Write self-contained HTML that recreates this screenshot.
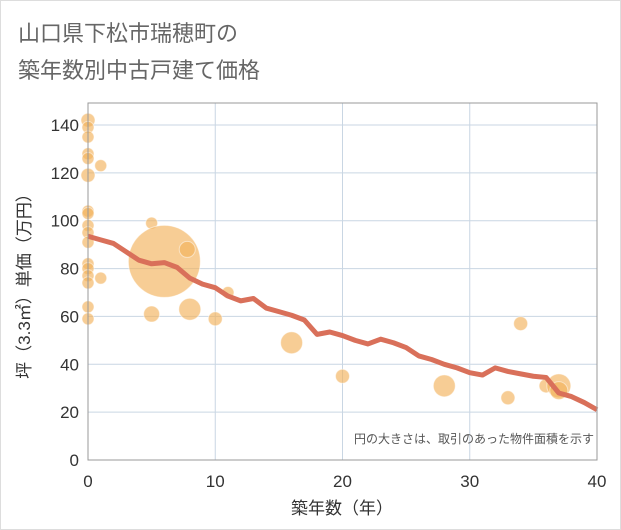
<!DOCTYPE html>
<html><head><meta charset="utf-8"><style>
body{margin:0;background:#fff;}
svg{display:block;font-family:"Liberation Sans","Noto Sans CJK JP",sans-serif;}
</style></head><body>
<svg id="c" width="621" height="530">
<rect x="0.5" y="0.5" width="620" height="529" fill="#fff" stroke="#ddd"/>
<text x="18" y="41" font-size="22" fill="#666">山口県下松市瑞穂町の</text>
<text x="18" y="78" font-size="22" fill="#666">築年数別中古戸建て価格</text>
<g id="grid"></g>
<g id="bubbles"></g>
<g id="line"></g>
<g id="axes"></g>
<text x="594" y="443" font-size="12" fill="#555" text-anchor="end">円の大きさは、取引のあった物件面積を示す</text>
<text x="342" y="514" font-size="17" fill="#333" text-anchor="middle">築年数（年）</text>
<text transform="translate(30,282) rotate(-90)" font-size="17" fill="#333" text-anchor="middle">坪（3.3㎡）単価（万円）</text>
</svg>
<script>
const xTicks=[0,10,20,30,40];
const yTicks=[0,20,40,60,80,100,120,140];
const lineYears=[0,1,2,3,4,5,6,7,8,9,10,11,12,13,14,15,16,17,18,19,20,21,22,23,24,25,26,27,28,29,30,31,32,33,34,35,36,37,38,39,40];
const linePrices=[93.5,92,90.5,87,83.5,82,82.5,80.5,76,73.5,72,68.5,66.5,67.5,63.5,62,60.5,58.5,52.5,53.5,52,50,48.5,50.5,49,47,43.5,42,40,38.5,36.5,35.5,38.5,37,36,35,34.5,28,26.5,24,21];
const bubbleYears=[0,0,0,0,0,0,0,0,0,0,0,0,0,0,0,0,0,1,1,5,5,6,7.8,8,10,11,16,20,28,33,34,36,37,37];
const bubblePrices=[142,139,135,128,126,119,104,103,98,95,91,82,80,77,74,64,59,123,76,99,61,83,88,63,59,70,49,35,31,26,57,31,31,29];
const bubbleSizes=[7,6,6,6,6,7,6,6,6,6,6,6,6,6,6,6,6,6,6,6,8,36,8,11,7,6,11,7,11,7,7,7,12,9];
const NS="http://www.w3.org/2000/svg";
const X0=88,X1=597,Y0=460,YT=103;
const sx=v=>X0+(v/40)*(X1-X0);
const sy=v=>Y0-(v/140)*(Y0-125);
function mk(t,a,p){const e=document.createElementNS(NS,t);for(const k in a)e.setAttribute(k,a[k]);p.appendChild(e);return e;}
const grid=document.getElementById('grid');
xTicks.forEach(t=>{
const l=mk('line',{x1:sx(t),x2:sx(t),y1:YT,y2:Y0,stroke:'#c9d6e3','stroke-width':1},grid);


});
yTicks.forEach(t=>{
const l=mk('line',{x1:X0,x2:X1,y1:sy(t),y2:sy(t),stroke:'#c9d6e3','stroke-width':1},grid);


});
const bg=document.getElementById('bubbles');
bubbleYears.forEach((y,i)=>{
const c=mk('circle',{cx:sx(y),cy:sy(bubblePrices[i]),r:bubbleSizes[i],fill:'#f2b25c','fill-opacity':0.65,stroke:'#fff','stroke-opacity':0.5},bg);


});
const lg=document.getElementById('line');
const p=mk('polyline',{points:lineYears.map((y,i)=>sx(y)+','+sy(linePrices[i])).join(' '),fill:'none',stroke:'#d9705a','stroke-width':5,'stroke-linejoin':'round'},lg);


const ax=document.getElementById('axes');
const fr=mk('rect',{x:X0,y:YT,width:X1-X0,height:Y0-YT,fill:'none',stroke:'#999','stroke-width':1},ax);


xTicks.forEach(t=>{
const e=mk('text',{x:sx(t),y:487,'font-size':17,fill:'#333','text-anchor':'middle'},ax);e.textContent=t;


});
yTicks.forEach(t=>{
const e=mk('text',{x:79,y:sy(t)+6,'font-size':17,fill:'#333','text-anchor':'end'},ax);e.textContent=t;


});
</script>
</body></html>
